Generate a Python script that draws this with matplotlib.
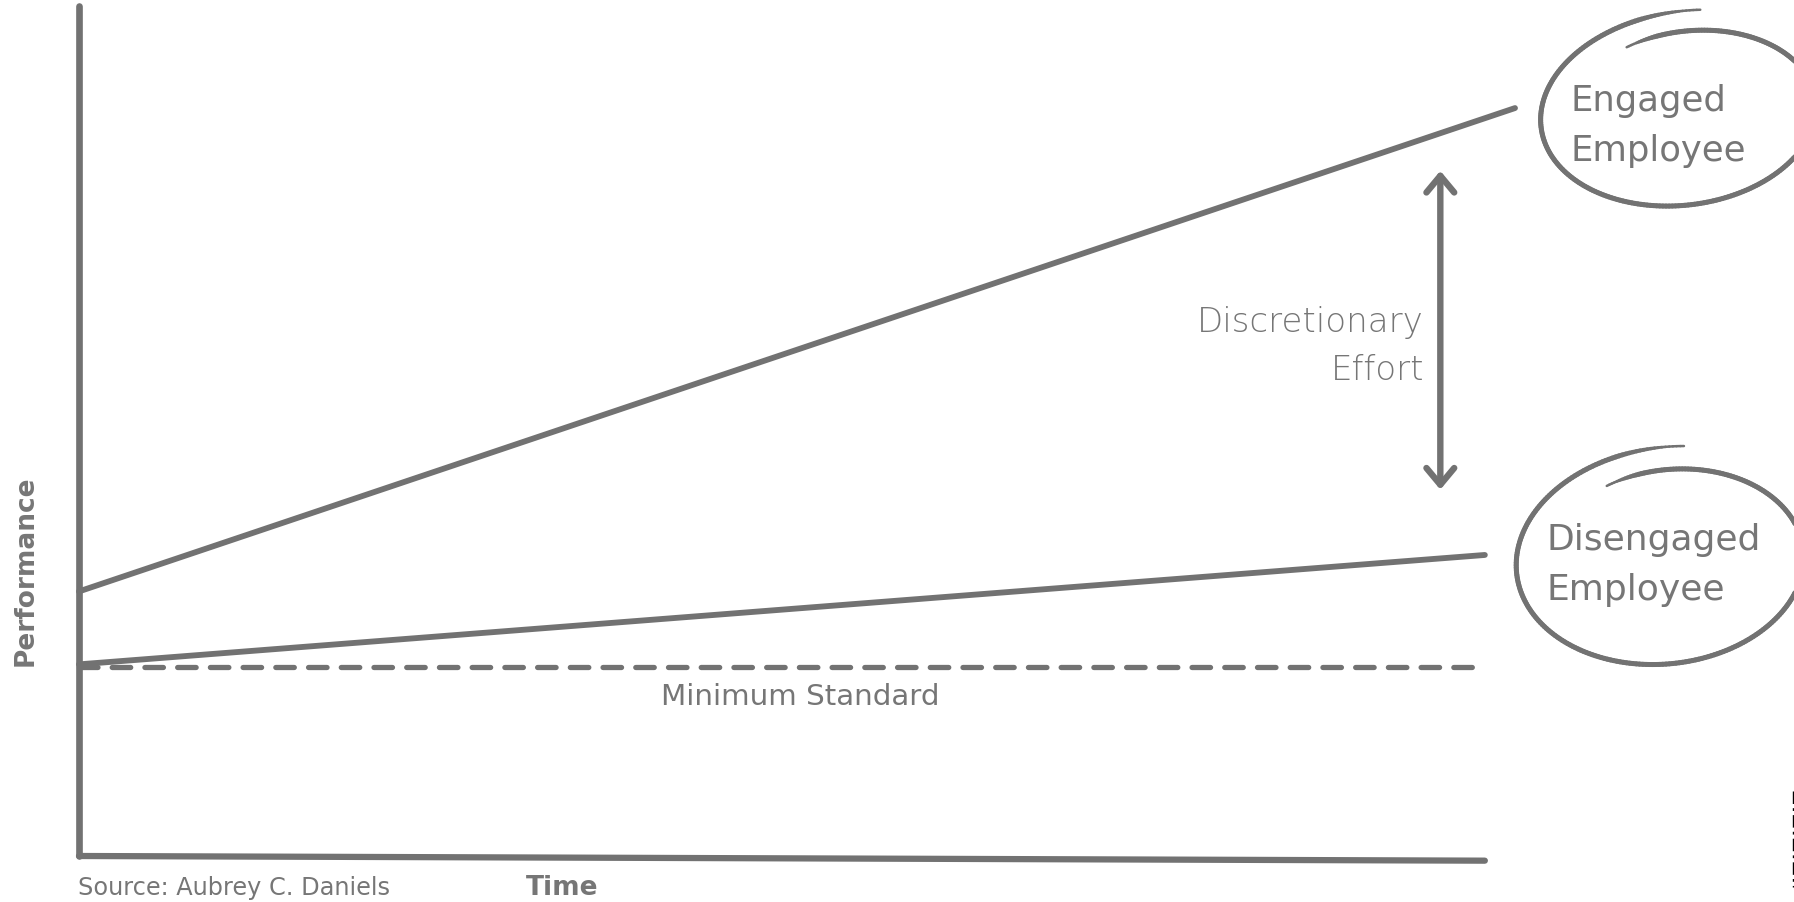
import matplotlib.pyplot as plt
import numpy as np
from matplotlib.collections import LineCollection
from matplotlib.lines import Line2D

# performance over time (arbitrary units, 0-100 on both axes)
time = [0, 100]
time_short = [0, 97.9]
engaged = [31.2, 88.2]
disengaged = [22.6, 35.5]
minimum = [22.3, 22.3]
effort_at = 94.8
effort_range = [43.2, 80.8]

GREY = '#727272'
TEXT = '#767676'
W, H = 1794, 903


def scribble(ax, cx, cy, a, b, rot=0, start=115, sweep=395, grow=(0.86, 1.1), lw=3.6):
    # hand-drawn looking loop: an ellipse that spirals outward and overlaps itself
    th = np.radians(np.linspace(start, start - sweep, 300))
    s = np.linspace(grow[0], grow[1], th.size)
    ex = a * s * np.cos(th)
    ey = b * s * np.sin(th)
    r = np.radians(rot)
    x = cx + ex * np.cos(r) - ey * np.sin(r)
    y = cy - (ex * np.sin(r) + ey * np.cos(r))
    pts = np.column_stack([x, y]).reshape(-1, 1, 2)
    segs = np.concatenate([pts[:-1], pts[1:]], axis=1)
    t = np.linspace(0, 1, len(segs))
    taper = np.clip(np.minimum(t / 0.04, (1 - t) / 0.06), 0.25, 1) ** 0.5
    lc = LineCollection(segs, linewidths=lw * taper, colors=GREY, capstyle='round')
    ax.add_collection(lc)


fig = plt.figure(figsize=(W / 100, H / 100), dpi=100)

ax = fig.add_axes([79 / W, 1 - 857 / H, (1515 - 79) / W, (857 - 9) / H])
ax.set_xlim(0, 100)
ax.set_ylim(0, 100)
ax.axis('off')

kw = dict(color=GREY, solid_capstyle='round', clip_on=False)
# axes drawn as plain strokes
ax.plot([0, 0], [0, 100.2], lw=4.8, **kw)
ax.plot(time_short, [0, -0.55], lw=4.5, **kw)

ax.plot(time, engaged, lw=4.2, **kw)
ax.plot(time_short, disengaged, lw=4.2, **kw)
ax.plot(time_short, minimum, lw=3.8, color=GREY, dashes=(3.5, 2.7),
        dash_capstyle='round', clip_on=False)

ax.annotate('', xy=(effort_at, effort_range[0]), xytext=(effort_at, effort_range[1]),
            arrowprops=dict(arrowstyle='<->,head_length=0.6,head_width=0.5',
                            lw=4.6, color=GREY, mutation_scale=20,
                            shrinkA=0, shrinkB=0, capstyle='round', joinstyle='round'))

# overlay in pixel units for labels and loops
ov = fig.add_axes([0, 0, 1, 1], zorder=-1)
ov.set_xlim(0, W)
ov.set_ylim(H, 0)
ov.axis('off')

scribble(ov, 1686, 114, 140, 93, rot=7)
scribble(ov, 1668, 562, 146, 104, rot=6)

lab = dict(family='DejaVu Sans', color=TEXT, va='center', ha='left')
ov.text(1571, 101, 'Engaged', fontsize=25.5, **lab)
ov.text(1571, 151, 'Employee', fontsize=25.5, **lab)
ov.text(1546, 540, 'Disengaged', fontsize=26, **lab)
ov.text(1546, 590, 'Employee', fontsize=26, **lab)

ov.text(1424, 323, 'Discretionary', fontsize=24.5, family='DejaVu Sans',
        weight='light', color=TEXT, ha='right', va='center')
ov.text(1424, 371, 'Effort', fontsize=24.5, family='DejaVu Sans',
        weight='light', color=TEXT, ha='right', va='center')

ov.text(800, 697, 'Minimum Standard', fontsize=21.2, family='DejaVu Sans',
        color=TEXT, ha='center', va='center')
ov.text(78, 888, 'Source: Aubrey C. Daniels', fontsize=17.3, family='DejaVu Sans',
        color=TEXT, ha='left', va='center')
ov.text(562, 888, 'Time', fontsize=19, family='DejaVu Sans', weight='bold',
        color=TEXT, ha='center', va='center')
ov.text(26, 571, 'Performance', fontsize=19, family='DejaVu Sans', weight='bold',
        color=TEXT, ha='center', va='center', rotation=90)

fig.add_artist(Line2D([1793 / W] * 2, [1 - 792 / H, 1 - 888 / H], color='black',
                      lw=1, dashes=(9, 3, 2, 3)))

fig.savefig('out.png', dpi=100, facecolor='white')
